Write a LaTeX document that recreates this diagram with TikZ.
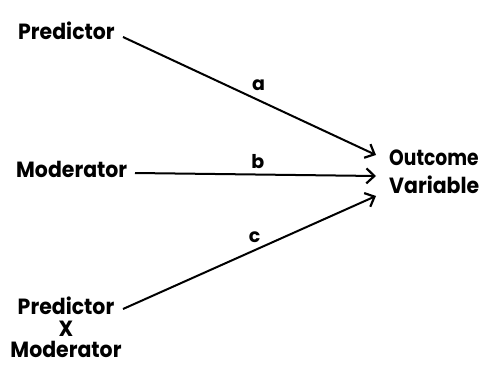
\documentclass[tikz,border=0pt]{standalone}
\usepackage{fontspec}
\usepackage{graphicx}
\setmainfont{Poppins}
\usetikzlibrary{arrows.meta}
\newcommand\sq[1]{\scalebox{0.93}[1]{#1}}
\begin{document}
\begin{tikzpicture}[x=1pt,y=-1pt,
  lbl/.style={font=\fontsize{22}{25}\selectfont\bfseries, inner sep=0pt},
  path/.style={line width=2pt, -{Straight Barb[length=8pt,width=15pt,line width=2.2pt]}},
  coef/.style={font=\fontsize{19}{21}\selectfont\bfseries, inner sep=0pt}]
\useasboundingbox (0,0) rectangle (480,367);
\node[lbl, anchor=base west] (pred) at (18,39) {\sq{Predictor}};
\node[lbl, anchor=base west] (mod) at (16,177) {\sq{Moderator}};
\node[lbl, align=center, anchor=north] (int) at (66,297) {\sq{Predictor}\\[-3pt]\sq{X}\\[-4pt]\sq{Moderator}};
\node[lbl, align=left, anchor=north west] (out) at (389,150) {\scalebox{0.85}[1]{Outcome}\\[3pt]\sq{Variable}};
\coordinate (ta) at (376,155);
\coordinate (tb) at (376,176);
\coordinate (tc) at (376,196);
\coordinate (sa) at (123,37);
\coordinate (sb) at (135,173);
\coordinate (sc) at (123,309);
\draw[path] (sa) -- (ta) node[coef, pos=0.536, yshift=15pt] (la) {a};
\draw[path] (sb) -- (tb) node[coef, pos=0.51, yshift=13pt] (lb) {b};
\draw[path] (sc) -- (tc) node[coef, pos=0.52, yshift=13pt] (lc) {c};
\end{tikzpicture}
\end{document}
